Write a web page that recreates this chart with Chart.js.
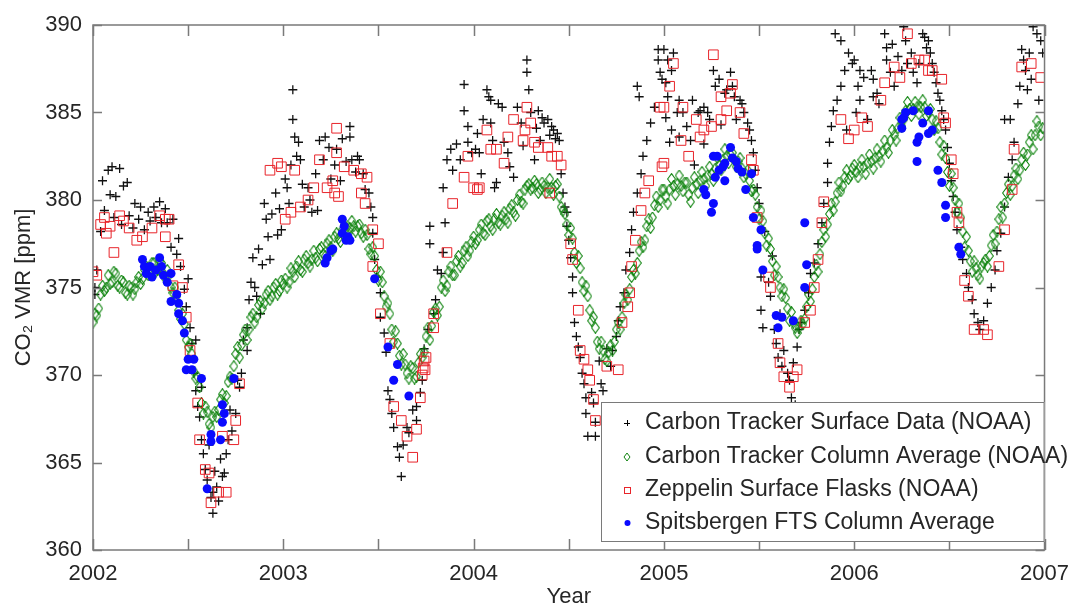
<!DOCTYPE html>
<html>
<head>
<meta charset="utf-8">
<script src="https://cdn.jsdelivr.net/npm/chart.js@4/dist/chart.umd.min.js"></script>
<style>
  html, body { margin: 0; padding: 0; background: #fff; }
</style>
</head>
<body>
<canvas id="co2Chart" width="1072" height="607"></canvas>
<script>
// Etichette della legenda (stesso ordine della figura)
var seriesNames = ['Carbon Tracker Surface Data (NOAA)', 'Carbon Tracker Column Average (NOAA)',
    'Zeppelin Surface Flasks (NOAA)', 'Spitsbergen FTS Column Average'];

// Tick degli assi
var yearTicks = [2002, 2003, 2004, 2005, 2006, 2007];
var halfYearTicks = [2002.5, 2003.5, 2004.5, 2005.5, 2006.5];
var ppmTicks = [360, 365, 370, 375, 380, 385, 390];

// Carbon Tracker, dati di superficie [anno, ppm]
var surfaceData = [
  [2002.01,375.0],[2002.02,376.0],[2002.01,374.6],[2002.04,378.2],[2002.05,381.1],[2002.06,379.4],[2002.08,381.7],[2002.09,380.3],
  [2002.10,381.9],[2002.11,379.0],[2002.12,380.2],[2002.14,381.8],[2002.15,378.6],[2002.16,380.8],[2002.18,381.0],[2002.19,379.1],
  [2002.21,378.4],[2002.22,379.8],[2002.24,378.9],[2002.25,379.6],[2002.27,378.3],[2002.29,379.3],[2002.30,378.8],[2002.32,379.6],
  [2002.33,379.0],[2002.35,379.9],[2002.36,378.7],[2002.38,379.5],[2002.39,378.7],[2002.41,377.3],[2002.42,378.9],[2002.44,376.9],
  [2002.45,377.8],[2002.46,376.2],[2002.48,374.9],[2002.49,373.9],[2002.50,375.5],[2002.51,372.7],[2002.52,371.8],[2002.53,370.1],
  [2002.54,372.0],[2002.54,369.1],[2002.55,368.2],[2002.56,367.6],[2002.57,366.3],[2002.57,369.3],[2002.58,365.5],[2002.59,364.6],
  [2002.60,364.0],[2002.61,366.0],[2002.62,363.0],[2002.63,362.1],[2002.63,363.3],[2002.64,364.5],[2002.65,363.6],[2002.66,362.8],
  [2002.67,365.2],[2002.68,364.2],[2002.69,364.4],[2002.70,365.5],[2002.71,366.3],[2002.72,368.0],[2002.73,366.8],[2002.75,367.8],
  [2002.76,369.7],[2002.77,369.3],[2002.78,370.1],[2002.79,372.0],[2002.81,371.4],[2002.81,372.7],[2002.82,374.3],[2002.83,375.3],
  [2002.84,376.7],[2002.85,375.0],[2002.86,374.5],[2002.87,377.2],[2002.88,373.5],[2002.89,376.3],[2002.90,379.8],[2002.91,378.9],
  [2002.92,377.9],[2002.93,376.6],[2002.94,379.2],[2002.96,380.4],[2002.97,378.0],[2002.98,379.5],[2002.99,378.3],
  [2003.01,381.2],[2003.02,380.7],[2003.03,379.8],[2003.04,382.0],[2003.05,386.3],[2003.05,384.6],[2003.06,383.6],[2003.07,382.5],
  [2003.08,383.3],[2003.09,382.3],[2003.10,380.9],[2003.11,379.6],[2003.13,380.7],[2003.14,380.0],[2003.15,379.3],[2003.17,381.5],
  [2003.18,379.4],[2003.19,383.4],[2003.21,382.3],[2003.22,383.6],[2003.24,383.0],[2003.25,381.2],[2003.27,382.0],[2003.28,382.9],
  [2003.30,381.1],[2003.31,383.5],[2003.33,382.2],[2003.35,384.2],[2003.35,383.6],[2003.36,382.3],[2003.38,381.6],[2003.39,382.5],
  [2003.40,382.3],[2003.42,381.5],[2003.43,380.6],[2003.45,380.4],[2003.46,379.6],[2003.47,379.0],[2003.47,378.1],[2003.48,376.6],
  [2003.49,375.6],[2003.51,374.7],[2003.51,373.3],[2003.53,372.4],[2003.54,371.3],[2003.55,369.1],[2003.56,368.6],[2003.57,367.8],
  [2003.58,367.0],[2003.60,365.9],[2003.61,365.3],[2003.62,364.2],[2003.63,366.0],[2003.65,367.0],[2003.66,366.7],[2003.68,368.0],
  [2003.70,367.4],[2003.70,368.2],[2003.72,369.0],[2003.73,369.7],[2003.74,371.5],[2003.76,372.6],[2003.77,378.5],[2003.77,377.5],
  [2003.79,373.5],[2003.80,374.3],[2003.81,376.0],[2003.83,375.8],[2003.84,377.0],[2003.84,380.7],[2003.85,378.7],[2003.86,382.3],
  [2003.88,382.9],[2003.89,381.7],[2003.91,383.2],[2003.93,382.3],[2003.95,386.6],[2003.95,385.1],[2003.97,384.2],[2003.97,383.3],
  [2003.99,382.7],
  [2004.01,382.9],[2004.02,383.8],[2004.03,382.7],[2004.04,381.5],[2004.05,384.6],[2004.07,386.3],[2004.08,385.9],[2004.09,385.7],
  [2004.09,384.4],[2004.10,383.4],[2004.11,380.7],[2004.12,381.0],[2004.13,385.5],[2004.15,385.3],[2004.16,383.3],[2004.18,382.7],
  [2004.19,381.9],[2004.21,381.3],[2004.23,385.3],[2004.25,384.4],[2004.26,383.1],[2004.28,388.0],[2004.28,387.3],[2004.29,386.3],
  [2004.30,385.0],[2004.32,382.3],[2004.33,384.1],[2004.34,385.1],[2004.35,383.4],[2004.36,384.7],[2004.37,384.4],[2004.39,384.6],
  [2004.40,383.7],[2004.41,384.2],[2004.42,384.0],[2004.43,383.5],[2004.44,383.8],[2004.45,383.4],[2004.46,381.5],[2004.47,380.4],
  [2004.48,379.6],[2004.49,379.3],[2004.49,378.5],[2004.50,377.7],[2004.51,376.7],[2004.52,375.6],[2004.52,374.7],[2004.53,373.0],
  [2004.54,372.2],[2004.55,371.6],[2004.56,371.0],[2004.57,370.1],[2004.58,369.5],[2004.59,368.7],[2004.59,367.8],[2004.60,366.5],
  [2004.62,369.0],[2004.63,368.4],[2004.64,367.3],[2004.64,366.5],[2004.66,370.8],[2004.67,369.5],[2004.68,369.1],[2004.70,371.5],
  [2004.72,370.5],[2004.73,371.4],[2004.75,372.2],[2004.76,373.1],[2004.77,373.9],[2004.79,374.7],[2004.80,376.0],[2004.82,377.0],
  [2004.83,378.3],[2004.84,379.3],[2004.86,380.4],[2004.86,386.5],[2004.87,385.9],[2004.88,381.5],[2004.89,382.5],[2004.91,383.4],
  [2004.93,384.4],[2004.95,385.3],[2004.97,388.6],[2004.97,388.0],[2004.98,387.3],[2004.99,386.9],
  [2005.00,388.6],[2005.01,386.7],[2005.01,384.7],[2005.02,388.0],[2005.02,385.9],[2005.03,383.3],[2005.04,387.4],[2005.04,384.0],
  [2005.05,388.4],[2005.07,385.0],[2005.08,385.7],[2005.08,383.6],[2005.10,385.0],[2005.12,384.2],[2005.14,383.4],[2005.15,385.7],
  [2005.16,382.0],[2005.18,385.0],[2005.19,385.1],[2005.21,385.3],[2005.21,383.2],[2005.23,385.0],[2005.24,384.6],[2005.26,387.4],
  [2005.27,386.5],[2005.29,386.9],[2005.30,384.3],[2005.32,386.1],[2005.33,386.3],[2005.35,387.3],[2005.36,386.5],[2005.37,385.9],
  [2005.38,384.6],[2005.40,385.7],[2005.41,385.5],[2005.42,385.0],[2005.44,384.4],[2005.45,384.0],[2005.46,383.4],[2005.47,382.7],
  [2005.48,381.7],[2005.49,380.7],[2005.50,379.8],[2005.51,375.6],[2005.51,373.7],[2005.52,372.7],[2005.53,378.2],[2005.55,375.3],
  [2005.56,374.5],[2005.57,376.8],[2005.58,372.6],[2005.59,371.8],[2005.60,371.0],[2005.61,373.5],[2005.62,370.5],[2005.63,371.4],
  [2005.65,370.1],[2005.66,369.7],[2005.67,368.7],[2005.68,370.7],[2005.69,368.3],[2005.70,371.6],[2005.71,372.6],[2005.72,373.0],
  [2005.74,373.7],[2005.76,374.7],[2005.77,375.8],[2005.79,376.4],[2005.81,377.5],[2005.83,378.7],[2005.84,379.8],[2005.86,381.0],
  [2005.86,382.1],[2005.87,383.3],[2005.88,384.2],[2005.89,385.1],[2005.90,389.5],[2005.91,385.7],[2005.93,386.5],[2005.93,389.1],
  [2005.95,387.4],[2005.96,384.0],[2005.97,388.4],[2005.99,387.8],
  [2006.00,388.0],[2006.01,385.0],[2006.02,386.5],[2006.03,387.4],[2006.03,385.7],[2006.05,387.0],[2006.07,384.6],[2006.09,387.4],
  [2006.10,386.9],[2006.10,385.9],[2006.12,386.1],[2006.13,385.5],[2006.16,389.5],[2006.17,388.7],[2006.17,388.0],[2006.19,387.3],
  [2006.20,388.9],[2006.21,386.5],[2006.23,388.2],[2006.25,387.4],[2006.26,389.9],[2006.27,389.1],[2006.28,387.8],[2006.30,388.4],
  [2006.31,387.3],[2006.33,386.7],[2006.34,387.8],[2006.36,389.5],[2006.37,389.3],[2006.38,388.7],[2006.39,389.1],[2006.40,388.4],
  [2006.41,387.8],[2006.42,387.3],[2006.43,386.7],[2006.44,386.1],[2006.45,385.7],[2006.46,385.1],[2006.47,384.6],[2006.48,384.0],
  [2006.49,383.0],[2006.50,382.1],[2006.51,381.1],[2006.52,380.2],[2006.53,379.3],[2006.54,378.3],[2006.56,377.3],[2006.57,376.6],
  [2006.59,375.8],[2006.60,375.0],[2006.62,374.3],[2006.63,373.5],[2006.65,373.0],[2006.66,372.6],[2006.68,373.1],[2006.70,374.1],
  [2006.72,375.0],[2006.74,376.0],[2006.75,377.1],[2006.77,378.1],[2006.79,379.6],[2006.79,384.6],[2006.81,381.3],[2006.82,384.6],
  [2006.83,382.3],[2006.84,383.3],[2006.86,385.5],[2006.87,386.5],[2006.88,388.6],[2006.89,388.0],[2006.90,387.4],[2006.91,386.3],
  [2006.92,388.4],[2006.93,386.9],[2006.94,389.9],[2006.96,389.5],[2006.97,385.7],[2006.98,389.1],[2006.99,388.4]
];

// Carbon Tracker, media di colonna [anno, ppm]
var columnData = [
  [2002.00,373.0],[2002.02,373.4],[2002.04,374.6],[2002.06,374.8],[2002.08,375.7],[2002.10,375.3],[2002.12,375.8],[2002.14,375.0],
  [2002.16,375.3],[2002.18,374.6],[2002.20,375.0],[2002.22,374.9],[2002.24,375.6],[2002.26,375.5],[2002.28,376.2],[2002.30,375.8],
  [2002.32,376.4],[2002.34,376.0],[2002.36,376.4],[2002.38,375.5],[2002.40,375.7],[2002.42,374.7],[2002.44,374.5],[2002.46,373.2],
  [2002.48,372.9],[2002.50,371.6],[2002.52,371.2],[2002.54,369.8],[2002.56,369.3],[2002.58,367.8],[2002.60,367.9],[2002.62,367.0],
  [2002.64,367.9],[2002.66,368.0],[2002.68,368.9],[2002.70,368.8],[2002.72,369.9],[2002.74,370.5],[2002.76,371.6],[2002.78,371.7],
  [2002.80,372.6],[2002.82,372.6],[2002.84,373.5],[2002.86,373.3],[2002.88,374.2],[2002.90,374.1],[2002.92,374.8],[2002.94,374.5],
  [2002.96,375.2],[2002.98,374.8],
  [2002.01,373.5],[2002.03,373.8],[2002.05,375.1],[2002.07,375.0],[2002.09,375.2],[2002.11,375.9],[2002.13,375.1],[2002.15,375.4],
  [2002.17,374.7],[2002.19,375.1],[2002.21,374.6],[2002.23,375.3],[2002.25,375.2],[2002.27,376.0],[2002.29,375.7],[2002.31,376.4],
  [2002.33,375.9],[2002.35,376.5],[2002.37,375.8],[2002.39,376.0],[2002.41,375.0],[2002.43,375.0],[2002.45,373.7],[2002.47,373.5],
  [2002.49,372.0],[2002.51,371.8],[2002.53,370.2],[2002.55,369.9],[2002.57,368.4],[2002.59,368.2],[2002.61,367.2],[2002.63,367.6],
  [2002.65,367.6],[2002.67,368.6],[2002.69,368.4],[2002.71,369.6],[2002.73,369.8],[2002.75,371.2],[2002.77,371.0],[2002.79,372.3],
  [2002.81,372.0],[2002.83,373.3],[2002.85,373.0],[2002.87,374.0],[2002.89,373.8],[2002.91,374.6],[2002.93,374.3],[2002.95,375.0],
  [2002.97,374.6],[2002.99,375.4],
  [2003.00,375.2],[2003.02,375.0],[2003.04,376.1],[2003.06,375.6],[2003.08,376.5],[2003.10,375.9],[2003.12,376.8],[2003.14,376.2],
  [2003.16,377.1],[2003.18,376.5],[2003.20,377.3],[2003.22,376.8],[2003.24,377.7],[2003.26,377.1],[2003.28,378.1],[2003.30,377.6],
  [2003.32,378.6],[2003.34,378.1],[2003.36,378.8],[2003.38,378.2],[2003.40,378.6],[2003.42,377.9],[2003.44,378.0],[2003.46,376.9],
  [2003.48,376.8],[2003.50,375.4],[2003.52,375.3],[2003.54,373.9],[2003.56,373.5],[2003.58,371.9],[2003.60,371.8],[2003.62,370.6],
  [2003.64,370.6],[2003.66,369.8],[2003.68,370.4],[2003.70,369.9],[2003.72,371.2],[2003.74,371.3],[2003.76,372.7],[2003.78,372.8],
  [2003.80,373.8],[2003.82,373.9],[2003.84,375.4],[2003.86,375.1],[2003.88,376.2],[2003.90,375.7],[2003.92,376.8],[2003.94,376.4],
  [2003.96,377.3],[2003.98,377.1],
  [2003.01,375.5],[2003.03,375.3],[2003.05,375.9],[2003.07,376.2],[2003.09,376.0],[2003.11,376.6],[2003.13,376.4],[2003.15,376.6],
  [2003.17,376.7],[2003.19,377.2],[2003.21,376.9],[2003.23,377.5],[2003.25,377.3],[2003.27,377.9],[2003.29,377.8],[2003.31,378.3],
  [2003.33,378.4],[2003.35,378.4],[2003.37,378.5],[2003.39,378.5],[2003.41,378.1],[2003.43,378.3],[2003.45,377.2],[2003.47,377.3],
  [2003.49,376.0],[2003.51,375.9],[2003.53,374.5],[2003.55,374.1],[2003.57,372.6],[2003.59,372.5],[2003.61,371.1],[2003.63,371.2],
  [2003.65,370.1],[2003.67,370.5],[2003.69,369.8],[2003.71,370.7],[2003.73,371.0],[2003.75,372.2],[2003.77,372.0],[2003.79,373.6],
  [2003.81,373.4],[2003.83,375.0],[2003.85,374.8],[2003.87,375.9],[2003.89,375.7],[2003.91,376.5],[2003.93,376.2],[2003.95,377.1],
  [2003.97,376.8],[2003.99,377.6],
  [2004.00,377.9],[2004.02,377.7],[2004.04,378.6],[2004.06,378.0],[2004.08,378.9],[2004.10,378.3],[2004.12,379.2],[2004.14,378.6],
  [2004.16,379.3],[2004.18,378.7],[2004.20,379.7],[2004.22,379.1],[2004.24,380.3],[2004.26,379.8],[2004.28,380.8],[2004.30,380.6],
  [2004.32,381.1],[2004.34,380.4],[2004.36,381.0],[2004.38,380.4],[2004.40,381.2],[2004.42,380.3],[2004.44,380.9],[2004.46,379.6],
  [2004.48,379.2],[2004.50,378.0],[2004.52,377.8],[2004.54,376.4],[2004.56,376.1],[2004.58,374.8],[2004.60,374.5],[2004.62,373.1],
  [2004.64,372.7],[2004.66,371.5],[2004.68,371.4],[2004.70,370.8],[2004.72,371.7],[2004.74,371.9],[2004.76,373.0],[2004.78,373.3],
  [2004.80,374.6],[2004.82,374.9],[2004.84,376.0],[2004.86,376.4],[2004.88,377.6],[2004.90,377.7],[2004.92,378.9],[2004.94,379.0],
  [2004.96,380.2],[2004.98,380.0],
  [2004.01,377.5],[2004.03,378.3],[2004.05,378.1],[2004.07,378.8],[2004.09,378.5],[2004.11,378.9],[2004.13,378.7],[2004.15,379.1],
  [2004.17,378.9],[2004.19,379.5],[2004.21,379.3],[2004.23,380.0],[2004.25,379.9],[2004.27,380.6],[2004.29,380.9],[2004.31,380.7],
  [2004.33,380.9],[2004.35,380.6],[2004.37,380.8],[2004.39,380.7],[2004.41,380.7],[2004.43,380.8],[2004.45,380.2],[2004.47,379.4],
  [2004.49,378.6],[2004.51,378.4],[2004.53,377.0],[2004.55,376.8],[2004.57,375.3],[2004.59,375.1],[2004.61,373.7],[2004.63,373.3],
  [2004.65,371.9],[2004.67,371.9],[2004.69,370.9],[2004.71,371.3],[2004.73,371.4],[2004.75,372.6],[2004.77,372.6],[2004.79,374.1],
  [2004.81,374.3],[2004.83,375.6],[2004.85,375.8],[2004.87,377.1],[2004.89,377.3],[2004.91,378.5],[2004.93,378.4],[2004.95,379.7],
  [2004.97,379.6],[2004.99,380.6],
  [2005.00,380.6],[2005.02,379.8],[2005.04,381.2],[2005.06,380.3],[2005.08,381.4],[2005.10,380.5],[2005.12,381.0],[2005.14,379.9],
  [2005.16,381.3],[2005.18,380.4],[2005.20,381.6],[2005.22,380.8],[2005.24,381.9],[2005.26,381.1],[2005.28,382.4],[2005.30,381.7],
  [2005.32,382.9],[2005.34,382.1],[2005.36,382.7],[2005.38,381.9],[2005.40,382.4],[2005.42,381.3],[2005.44,381.7],[2005.46,380.5],
  [2005.48,380.3],[2005.50,378.9],[2005.52,378.8],[2005.54,377.4],[2005.56,377.2],[2005.58,375.7],[2005.60,375.6],[2005.62,374.5],
  [2005.64,374.4],[2005.66,373.1],[2005.68,373.0],[2005.70,372.4],[2005.72,373.1],[2005.74,373.2],[2005.76,374.6],[2005.78,374.9],
  [2005.80,376.3],[2005.82,376.9],[2005.84,378.3],[2005.86,378.6],[2005.88,379.8],[2005.90,379.9],[2005.92,381.0],[2005.94,380.8],
  [2005.96,381.7],[2005.98,381.4],
  [2005.01,380.2],[2005.03,380.6],[2005.05,380.8],[2005.07,380.9],[2005.09,380.8],[2005.11,381.0],[2005.13,380.3],[2005.15,380.7],
  [2005.17,380.9],[2005.19,381.1],[2005.21,381.2],[2005.23,381.4],[2005.25,381.5],[2005.27,381.8],[2005.29,382.0],[2005.31,382.3],
  [2005.33,382.5],[2005.35,382.6],[2005.37,382.3],[2005.39,382.2],[2005.41,381.8],[2005.43,381.5],[2005.45,381.1],[2005.47,380.6],
  [2005.49,379.6],[2005.51,379.4],[2005.53,378.1],[2005.55,377.8],[2005.57,376.5],[2005.59,376.2],[2005.61,375.0],[2005.63,374.9],
  [2005.65,373.8],[2005.67,373.6],[2005.69,372.7],[2005.71,372.7],[2005.73,372.9],[2005.75,373.9],[2005.77,374.2],[2005.79,375.6],
  [2005.81,375.9],[2005.83,377.6],[2005.85,377.9],[2005.87,379.2],[2005.89,379.4],[2005.91,380.4],[2005.93,380.5],[2005.95,381.3],
  [2005.97,381.2],[2005.99,381.8],
  [2006.00,382.0],[2006.02,381.3],[2006.04,382.3],[2006.06,381.5],[2006.08,382.6],[2006.10,381.8],[2006.12,382.9],[2006.14,382.2],
  [2006.16,383.4],[2006.18,382.7],[2006.20,384.0],[2006.22,383.4],[2006.24,384.7],[2006.26,384.6],[2006.28,385.6],[2006.30,384.8],
  [2006.32,385.6],[2006.34,384.9],[2006.36,385.7],[2006.38,384.8],[2006.40,385.2],[2006.42,384.0],[2006.44,384.1],[2006.46,382.6],
  [2006.48,382.4],[2006.50,380.8],[2006.52,380.7],[2006.54,379.3],[2006.56,379.0],[2006.58,377.3],[2006.60,377.1],[2006.62,375.9],
  [2006.64,376.1],[2006.66,375.5],[2006.68,376.4],[2006.70,376.2],[2006.72,377.4],[2006.74,377.5],[2006.76,378.9],[2006.78,379.0],
  [2006.80,380.4],[2006.82,380.3],[2006.84,381.4],[2006.86,381.2],[2006.88,382.3],[2006.90,382.0],[2006.92,383.3],[2006.94,382.9],
  [2006.96,384.5],[2006.98,383.7],
  [2006.01,381.6],[2006.03,381.9],[2006.05,381.9],[2006.07,382.1],[2006.09,382.2],[2006.11,382.4],[2006.13,382.5],[2006.15,382.8],
  [2006.17,383.0],[2006.19,383.4],[2006.21,383.7],[2006.23,384.1],[2006.25,384.2],[2006.27,385.1],[2006.29,385.2],[2006.31,385.2],
  [2006.33,385.3],[2006.35,385.3],[2006.37,385.3],[2006.39,385.0],[2006.41,384.6],[2006.43,384.5],[2006.45,383.3],[2006.47,383.1],
  [2006.49,381.6],[2006.51,381.5],[2006.53,380.0],[2006.55,379.8],[2006.57,378.2],[2006.59,377.9],[2006.61,376.5],[2006.63,376.5],
  [2006.65,375.7],[2006.67,376.2],[2006.69,376.6],[2006.71,376.8],[2006.73,378.0],[2006.75,378.2],[2006.77,379.6],[2006.79,379.8],
  [2006.81,380.9],[2006.83,380.8],[2006.85,381.8],[2006.87,381.7],[2006.89,382.7],[2006.91,382.6],[2006.93,383.7],[2006.95,383.7],
  [2006.97,384.2],[2006.99,384.1]
];

// Zeppelin, campioni di superficie [anno, ppm]
var flaskData = [
  [2002.00,375.9],[2002.02,375.7],[2002.04,378.6],[2002.06,379.0],[2002.07,378.1],[2002.09,378.5],[2002.11,377.0],[2002.14,379.1],
  [2002.16,378.8],[2002.19,378.4],[2002.23,377.7],[2002.26,377.9],[2002.31,378.4],[2002.35,379.1],[2002.38,378.9],[2002.40,378.9],
  [2002.38,377.9],[2002.45,376.3],[2002.42,375.1],[2002.47,375.0],[2002.49,373.3],[2002.51,371.4],[2002.55,368.4],[2002.56,366.3],
  [2002.59,364.6],[2002.61,364.4],[2002.62,362.7],[2002.66,363.3],[2002.70,363.3],[2002.68,366.5],[2002.74,366.3],[2002.75,367.4],
  [2002.77,369.5],[2002.93,381.7],[2002.97,382.1],[2002.99,381.9],
  [2003.01,378.9],[2003.04,379.3],[2003.06,381.7],[2003.09,379.6],[2003.13,380.0],[2003.16,380.7],[2003.19,382.3],[2003.23,380.7],
  [2003.26,381.1],[2003.27,380.4],[2003.28,384.1],[2003.28,382.7],[2003.29,380.2],[2003.32,381.9],[2003.37,381.7],[2003.41,381.5],
  [2003.41,380.4],[2003.43,379.8],[2003.44,381.3],[2003.47,378.3],[2003.50,377.5],[2003.47,376.2],[2003.51,373.5],[2003.56,371.8],
  [2003.58,368.2],[2003.62,367.4],[2003.65,366.5],[2003.68,365.3],[2003.70,366.9],[2003.72,368.7],[2003.73,370.0],[2003.735,370.4],
  [2003.74,370.8],[2003.745,370.3],[2003.75,371.0],[2003.79,373.5],[2003.79,372.7],[2003.86,377.0],[2003.89,379.8],[2003.95,381.3],
  [2003.97,382.5],
  [2004.00,380.7],[2004.02,380.6],[2004.03,380.7],[2004.07,384.0],[2004.09,382.9],[2004.12,382.9],[2004.16,382.1],[2004.18,383.6],
  [2004.21,384.6],[2004.26,383.4],[2004.27,384.0],[2004.28,385.3],[2004.30,384.4],[2004.32,383.3],[2004.34,383.0],[2004.39,383.0],
  [2004.40,380.4],[2004.41,382.5],[2004.44,382.5],[2004.46,382.0],[2004.51,377.5],[2004.52,376.6],[2004.55,373.7],[2004.56,371.4],
  [2004.58,370.9],[2004.60,370.3],[2004.61,369.7],[2004.63,368.6],[2004.64,367.4],[2004.70,370.5],[2004.76,370.3],[2004.78,373.0],
  [2004.81,373.9],[2004.82,374.7],[2004.83,376.2],[2004.85,377.7],[2004.88,379.4],[2004.90,380.4],[2004.92,381.1],[2004.98,385.3],
  [2004.99,381.9],
  [2005.00,385.3],[2005.00,382.1],[2005.03,386.5],[2005.05,387.8],[2005.09,383.4],[2005.10,385.3],[2005.13,382.5],[2005.17,384.6],
  [2005.19,383.6],[2005.21,384.0],[2005.25,384.2],[2005.26,388.3],[2005.30,384.6],[2005.30,385.9],[2005.33,385.1],[2005.35,386.1],
  [2005.36,386.6],[2005.40,385.0],[2005.42,383.8],[2005.46,382.3],[2005.47,381.7],[2005.49,379.0],[2005.55,375.6],[2005.56,375.0],
  [2005.60,371.8],[2005.61,370.7],[2005.63,369.9],[2005.66,369.3],[2005.68,369.9],[2005.70,370.3],[2005.74,373.0],[2005.77,373.7],
  [2005.79,375.0],[2005.81,376.6],[2005.83,378.7],[2005.84,379.9],[2005.93,384.6],[2005.97,383.5],
  [2006.00,384.0],[2006.04,384.7],[2006.07,384.2],[2006.14,385.7],[2006.16,386.7],[2006.21,387.6],[2006.24,387.0],[2006.28,389.5],
  [2006.30,387.8],[2006.34,388.0],[2006.37,388.0],[2006.39,387.4],[2006.41,387.4],[2006.46,386.9],[2006.47,384.7],[2006.48,384.4],
  [2006.51,382.3],[2006.52,381.5],[2006.54,379.3],[2006.55,378.7],[2006.58,375.4],[2006.60,374.5],[2006.63,372.6],[2006.68,372.6],
  [2006.70,372.3],[2006.76,376.2],[2006.79,378.3],[2006.83,380.6],[2006.84,382.9],[2006.88,387.6],[2006.93,387.8],[2006.98,387.0]
];

// Spitsbergen FTS, media di colonna [anno, ppm]
var ftsData = [
  [2002.26,376.6],[2002.27,376.2],[2002.28,375.8],[2002.30,376.2],[2002.31,375.6],[2002.33,376.0],[2002.35,376.7],[2002.36,376.2],
  [2002.37,375.7],[2002.39,375.3],[2002.41,375.8],[2002.41,374.2],[2002.44,374.6],[2002.45,374.1],[2002.45,373.5],[2002.47,373.1],
  [2002.48,372.4],[2002.50,370.9],[2002.49,370.3],[2002.52,370.3],[2002.53,370.9],[2002.57,369.8],[2002.60,363.5],[2002.62,366.6],
  [2002.62,366.2],[2002.67,366.3],[2002.68,368.3],[2002.69,367.8],[2002.68,367.3],[2002.74,369.8],
  [2003.22,376.4],[2003.23,376.7],[2003.25,377.1],[2003.26,377.2],[2003.31,378.9],[2003.32,378.5],[2003.31,378.1],[2003.33,377.7],
  [2003.34,377.9],[2003.35,377.7],[2003.48,375.5],[2003.55,371.6],[2003.60,370.6],[2003.58,369.7],[2003.66,368.8],
  [2005.21,380.6],[2005.22,380.3],[2005.25,379.3],[2005.26,379.8],[2005.26,382.5],[2005.28,382.5],[2005.27,381.3],[2005.29,381.7],
  [2005.31,381.9],[2005.32,382.1],[2005.32,381.1],[2005.35,383.0],[2005.36,382.4],[2005.38,382.2],[2005.39,381.8],[2005.41,381.6],
  [2005.43,380.6],[2005.46,381.5],[2005.47,379.0],[2005.49,377.4],[2005.49,377.2],[2005.51,378.3],[2005.52,376.0],[2005.59,373.4],
  [2005.60,372.7],[2005.62,373.3],[2005.68,373.1],[2005.74,378.7],[2005.75,376.3],[2005.74,375.0],
  [2006.25,384.6],[2006.26,384.7],[2006.25,384.1],[2006.27,385.0],[2006.31,385.1],[2006.33,382.2],[2006.33,383.3],[2006.34,383.6],
  [2006.36,384.4],[2006.39,385.1],[2006.39,383.8],[2006.41,384.0],[2006.44,381.7],[2006.46,381.0],[2006.48,379.7],[2006.48,379.0],
  [2006.55,377.3],[2006.56,376.9]
];

var toPoints = function (arr) {
    return arr.map(function (p) { return { x: p[0], y: p[1] }; });
};

var FONT = '"Liberation Sans", Arial, sans-serif';
var TEXT = '#262626';
var AXIS = '#7a7a7a';
var GREEN = '#0f840f';

// Rombo verde per la media di colonna (piu' alto che largo)
function makeDiamond(w, h, color) {
    var c = document.createElement('canvas');
    c.width = w; c.height = h;
    var g = c.getContext('2d');
    g.strokeStyle = color;
    g.lineWidth = 1.1;
    g.beginPath();
    g.moveTo(w / 2, 0.6);
    g.lineTo(w - 0.6, h / 2);
    g.lineTo(w / 2, h - 0.6);
    g.lineTo(0.6, h / 2);
    g.closePath();
    g.stroke();
    return c;
}
var diamondImg = makeDiamond(9, 12, GREEN);

// Cornice con tacche interne su tutti i lati
var framePlugin = {
    id: 'frame',
    afterDatasetsDraw: function (chart) {
        var ctx = chart.ctx, a = chart.chartArea, xs = chart.scales.x, ys = chart.scales.y;
        ctx.save();
        ctx.strokeStyle = AXIS;
        ctx.lineWidth = 1.5;
        ctx.strokeRect(a.left, a.top, a.right - a.left, a.bottom - a.top);
        ctx.beginPath();
        yearTicks.concat(halfYearTicks).forEach(function (v) {
            var px = Math.round(xs.getPixelForValue(v)) + 0.5;
            ctx.moveTo(px, a.bottom); ctx.lineTo(px, a.bottom - 11);
            ctx.moveTo(px, a.top); ctx.lineTo(px, a.top + 11);
        });
        ppmTicks.forEach(function (v) {
            var py = Math.round(ys.getPixelForValue(v)) + 0.5;
            ctx.moveTo(a.left, py); ctx.lineTo(a.left + 9, py);
            ctx.moveTo(a.right, py); ctx.lineTo(a.right - 9, py);
        });
        ctx.stroke();
        ctx.restore();
    }
};

// Legenda nel riquadro in basso a destra
var legendPlugin = {
    id: 'boxLegend',
    afterDraw: function (chart) {
        var ctx = chart.ctx, a = chart.chartArea;
        var left = 601, top = 402, right = a.right, bottom = 542;
        ctx.save();
        ctx.fillStyle = '#fff';
        ctx.fillRect(left, top, right - left, bottom - top);
        ctx.strokeStyle = AXIS;
        ctx.lineWidth = 1;
        ctx.strokeRect(left + 0.5, top + 0.5, right - left - 1, bottom - top - 1);
        var rows = [423, 457, 490, 523];
        var mx = 627;
        // croce
        ctx.strokeStyle = '#000';
        ctx.beginPath();
        ctx.moveTo(mx - 3, rows[0] + 0.5); ctx.lineTo(mx + 3, rows[0] + 0.5);
        ctx.moveTo(mx + 0.5, rows[0] - 3); ctx.lineTo(mx + 0.5, rows[0] + 3);
        ctx.stroke();
        // rombo
        ctx.strokeStyle = GREEN;
        ctx.beginPath();
        ctx.moveTo(mx, rows[1] - 4); ctx.lineTo(mx + 3, rows[1]);
        ctx.lineTo(mx, rows[1] + 4); ctx.lineTo(mx - 3, rows[1]);
        ctx.closePath(); ctx.stroke();
        // quadrato
        ctx.strokeStyle = '#e8242a';
        ctx.strokeRect(mx - 2.5, rows[2] - 2.5, 6, 6);
        // punto
        ctx.fillStyle = '#0a0aff';
        ctx.beginPath(); ctx.arc(mx + 0.5, rows[3], 3, 0, Math.PI * 2); ctx.fill();
        ctx.fillStyle = TEXT;
        ctx.font = '23px ' + FONT;
        ctx.textBaseline = 'middle';
        seriesNames.forEach(function (name, i) {
            ctx.fillText(name, 645, rows[i]);
        });
        ctx.restore();
    }
};

var ctx = document.getElementById('co2Chart').getContext('2d');

new Chart(ctx, {
    type: 'scatter',
    data: {
        datasets: [{
            label: seriesNames[3],
            data: toPoints(ftsData),
            pointStyle: 'circle',
            pointRadius: 4.5,
            backgroundColor: '#0a0aff',
            borderColor: '#0a0aff',
            borderWidth: 0,
            order: 0
        }, {
            label: seriesNames[2],
            data: toPoints(flaskData),
            pointStyle: 'rect',
            pointRadius: 6.8,
            backgroundColor: 'rgba(0,0,0,0)',
            borderColor: '#e8242a',
            borderWidth: 1,
            order: 1
        }, {
            label: seriesNames[1],
            data: toPoints(columnData),
            pointStyle: diamondImg,
            pointRadius: 5,
            order: 2
        }, {
            label: seriesNames[0],
            data: toPoints(surfaceData),
            pointStyle: 'cross',
            pointRadius: 4.5,
            borderColor: '#111',
            borderWidth: 1.3,
            order: 3
        }]
    },
    options: {
        responsive: false,
        animation: false,
        events: [],
        layout: { padding: { left: 0, top: 25, right: 27, bottom: 0 } },
        plugins: { legend: { display: false }, tooltip: { enabled: false } },
        scales: {
            x: {
                type: 'linear',
                min: 2002,
                max: 2007,
                grid: { display: false },
                border: { display: false },
                ticks: {
                    stepSize: 1,
                    padding: 3,
                    maxRotation: 0,
                    color: TEXT,
                    font: { family: FONT, size: 22 },
                    callback: function (v) { return String(v); }
                },
                title: {
                    display: true,
                    text: 'Year',
                    color: TEXT,
                    font: { family: FONT, size: 22 },
                    padding: { top: 0, bottom: -3 }
                },
                afterFit: function (s) { s.height = 57; }
            },
            y: {
                min: 360,
                max: 390,
                grid: { display: false },
                border: { display: false },
                ticks: {
                    stepSize: 5,
                    padding: 3,
                    color: TEXT,
                    font: { family: FONT, size: 22 }
                },
                title: {
                    display: true,
                    text: 'CO₂ VMR [ppm]',
                    color: TEXT,
                    font: { family: FONT, size: 22 },
                    padding: { top: 11, bottom: 0 }
                },
                afterFit: function (s) { s.width = 93; }
            }
        }
    },
    plugins: [framePlugin, legendPlugin]
});
</script>
</body>
</html>
